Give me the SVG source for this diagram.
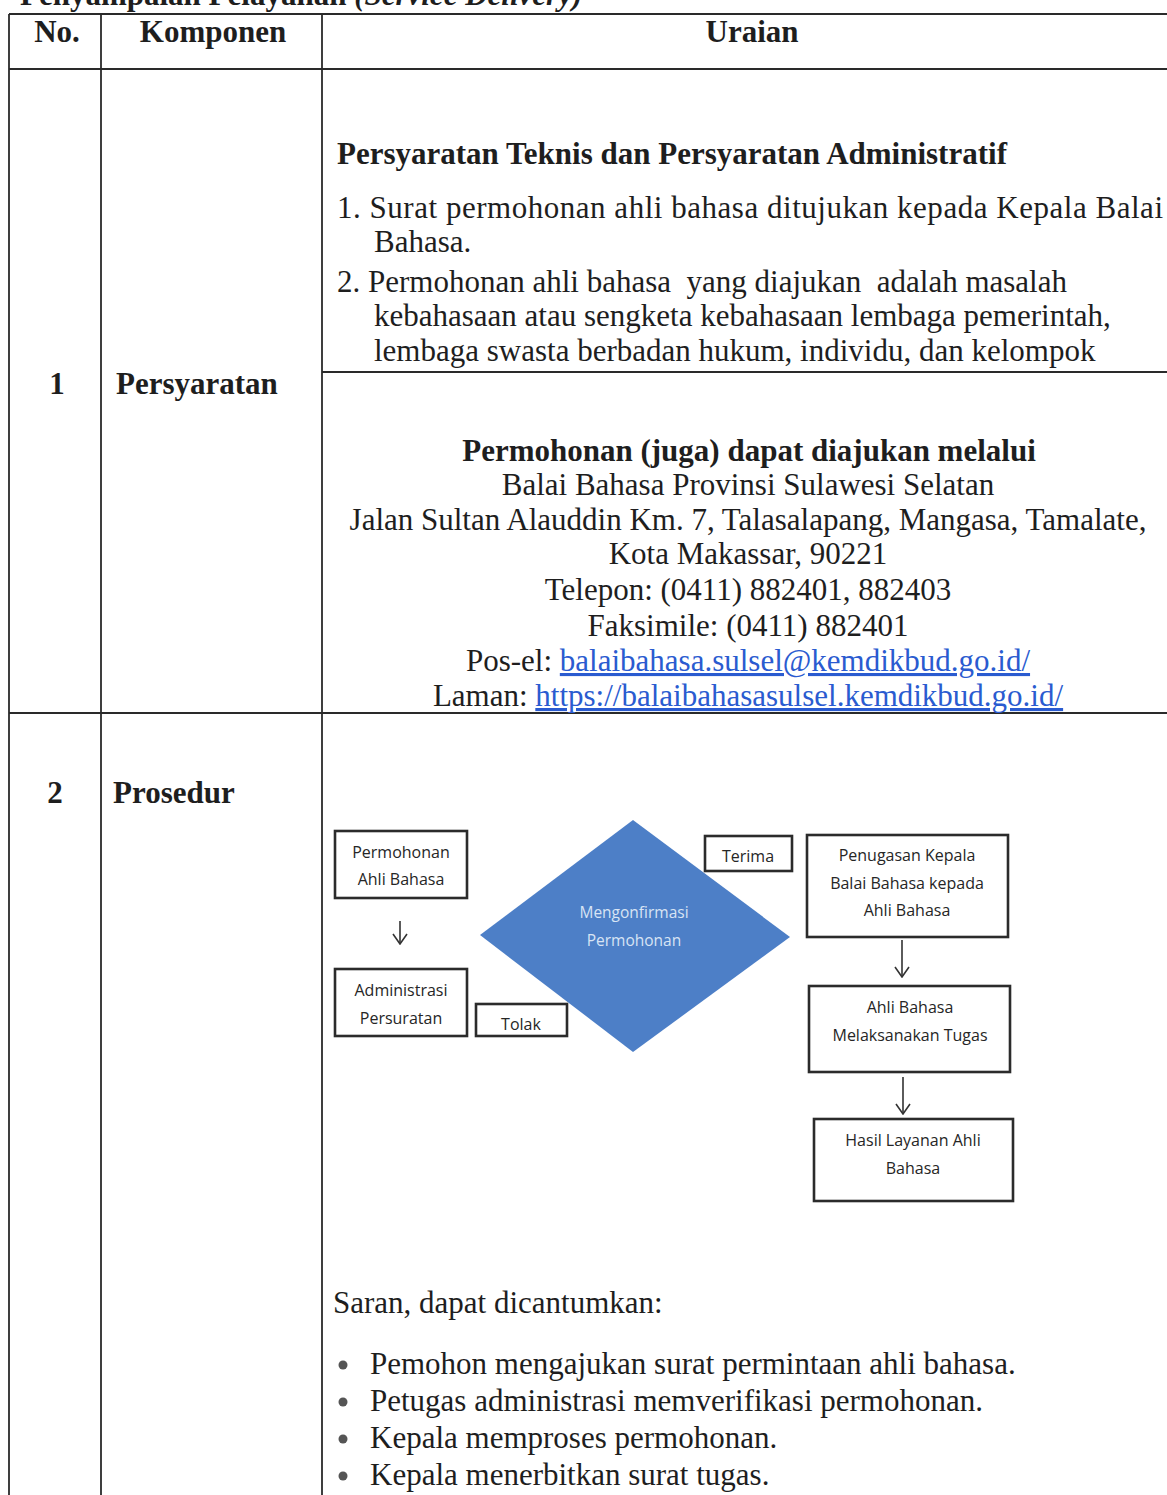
<svg xmlns="http://www.w3.org/2000/svg" width="1167" height="1495" viewBox="0 0 1167 1495">
<style>
.bg{fill:#ffffff}
.tl{stroke:#2a2a2a;stroke-width:1.8;fill:none}
.serif{font-family:"Liberation Serif","Times New Roman",serif;fill:#1e1e1e}
.b{font-weight:bold}
.t31{font-size:31px}
.mid{text-anchor:middle}
.link{fill:#2a5bd0;text-decoration:underline}
.box{fill:#ffffff;stroke:#2b2b2b;stroke-width:2.6}
.ft{font-family:"Open Sans","Noto Sans","Liberation Sans",sans-serif;font-size:16px;fill:#262626;text-anchor:middle}
.dt{font-family:"Open Sans","Noto Sans","Liberation Sans",sans-serif;font-size:15.5px;fill:#d8e4f4;text-anchor:middle}
.conn{stroke:#333333;stroke-width:1.6;fill:none}
.bul{fill:#555555}
</style>
<defs>
<marker id="arr" viewBox="0 0 12 16" refX="11" refY="8" markerWidth="12" markerHeight="16" markerUnits="userSpaceOnUse" orient="auto">
<path d="M1,1 L11,8 L1,15" fill="none" stroke="#333333" stroke-width="1.6"/>
</marker>
</defs>
<rect class="bg" x="0" y="0" width="1167" height="1495"/>

<g id="title">
<text class="serif b t31" x="20" y="5">Penyampaian Pelayanan <tspan font-style="italic">(Service Delivery)</tspan></text>
</g>

<g id="table-lines">
<line class="tl" x1="9" y1="14" x2="1167" y2="14"/>
<line class="tl" x1="9" y1="69" x2="1167" y2="69"/>
<line class="tl" x1="322" y1="372" x2="1167" y2="372"/>
<line class="tl" x1="9" y1="713" x2="1167" y2="713"/>
<line class="tl" x1="9" y1="14" x2="9" y2="1495"/>
<line class="tl" x1="101" y1="14" x2="101" y2="1495"/>
<line class="tl" x1="322" y1="14" x2="322" y2="1495"/>
</g>

<g id="header">
<text class="serif b t31 mid" x="57" y="42">No.</text>
<text class="serif b t31 mid" x="213" y="42">Komponen</text>
<text class="serif b t31 mid" x="752" y="42">Uraian</text>
</g>

<g id="row1-label">
<text class="serif b t31 mid" x="57" y="394">1</text>
<text class="serif b t31" x="116" y="394">Persyaratan</text>
</g>

<g id="row1-requirements">
<text class="serif b t31" x="337" y="164">Persyaratan Teknis dan Persyaratan Administratif</text>
<text class="serif t31" x="337" y="218" textLength="826" lengthAdjust="spacing">1. Surat permohonan ahli bahasa ditujukan kepada Kepala Balai</text>
<text class="serif t31" x="374" y="252">Bahasa.</text>
<text class="serif t31" x="337" y="292" xml:space="preserve">2. Permohonan ahli bahasa  yang diajukan  adalah masalah</text>
<text class="serif t31" x="374" y="326">kebahasaan atau sengketa kebahasaan lembaga pemerintah,</text>
<text class="serif t31" x="374" y="361">lembaga swasta berbadan hukum, individu, dan kelompok</text>
</g>

<g id="row1-contact">
<text class="serif b t31 mid" x="749" y="461">Permohonan (juga) dapat diajukan melalui</text>
<text class="serif t31 mid" x="748" y="495">Balai Bahasa Provinsi Sulawesi Selatan</text>
<text class="serif t31 mid" x="748" y="530">Jalan Sultan Alauddin Km. 7, Talasalapang, Mangasa, Tamalate,</text>
<text class="serif t31 mid" x="748" y="564">Kota Makassar, 90221</text>
<text class="serif t31 mid" x="748" y="600">Telepon: (0411) 882401, 882403</text>
<text class="serif t31 mid" x="748" y="636">Faksimile: (0411) 882401</text>
<text class="serif t31 mid" x="748" y="671">Pos-el: <tspan class="link">balaibahasa.sulsel@kemdikbud.go.id/</tspan></text>
<text class="serif t31 mid" x="748" y="706">Laman: <tspan class="link">https://balaibahasasulsel.kemdikbud.go.id/</tspan></text>
</g>

<g id="row2-label">
<text class="serif b t31 mid" x="55" y="803">2</text>
<text class="serif b t31" x="113" y="803">Prosedur</text>
</g>

<g id="node-permohonan">
<rect class="box" x="335" y="831" width="132" height="67"/>
<text class="ft" x="401" y="858">Permohonan</text>
<text class="ft" x="401" y="885">Ahli Bahasa</text>
</g>
<g id="node-administrasi">
<rect class="box" x="335" y="969" width="132" height="67"/>
<text class="ft" x="401" y="996">Administrasi</text>
<text class="ft" x="401" y="1024">Persuratan</text>
</g>
<g id="node-tolak">
<rect class="box" x="476" y="1004" width="91" height="32"/>
<text class="ft" x="521" y="1030">Tolak</text>
</g>
<g id="node-mengonfirmasi">
<polygon points="633,820 790,937 633,1052 480,935" fill="#4d7fc7"/>
<text class="dt" x="634" y="918">Mengonfirmasi</text>
<text class="dt" x="634" y="946">Permohonan</text>
</g>
<g id="node-terima">
<rect class="box" x="705" y="836" width="87" height="35"/>
<text class="ft" x="748" y="862">Terima</text>
</g>
<g id="node-penugasan">
<rect class="box" x="807" y="835" width="201" height="102"/>
<text class="ft" x="907" y="861">Penugasan Kepala</text>
<text class="ft" x="907" y="889">Balai Bahasa kepada</text>
<text class="ft" x="907" y="916">Ahli Bahasa</text>
</g>
<g id="node-melaksanakan">
<rect class="box" x="809" y="986" width="201" height="86"/>
<text class="ft" x="910" y="1013">Ahli Bahasa</text>
<text class="ft" x="910" y="1041">Melaksanakan Tugas</text>
</g>
<g id="node-hasil">
<rect class="box" x="814" y="1119" width="199" height="82"/>
<text class="ft" x="913" y="1146">Hasil Layanan Ahli</text>
<text class="ft" x="913" y="1174">Bahasa</text>
</g>

<g id="connectors">
<line class="conn" x1="400" y1="921" x2="400" y2="944" marker-end="url(#arr)"/>
<line class="conn" x1="902" y1="940" x2="902" y2="977" marker-end="url(#arr)"/>
<line class="conn" x1="903" y1="1077" x2="903" y2="1114" marker-end="url(#arr)"/>
</g>

<g id="row2-suggestions">
<text class="serif t31" x="333" y="1313">Saran, dapat dicantumkan:</text>
<circle class="bul" cx="343" cy="1365" r="4.5"/>
<text class="serif t31" x="370" y="1374">Pemohon mengajukan surat permintaan ahli bahasa.</text>
<circle class="bul" cx="343" cy="1402" r="4.5"/>
<text class="serif t31" x="370" y="1411">Petugas administrasi memverifikasi permohonan.</text>
<circle class="bul" cx="343" cy="1439" r="4.5"/>
<text class="serif t31" x="370" y="1448">Kepala memproses permohonan.</text>
<circle class="bul" cx="343" cy="1476" r="4.5"/>
<text class="serif t31" x="370" y="1485">Kepala menerbitkan surat tugas.</text>
</g>
</svg>
